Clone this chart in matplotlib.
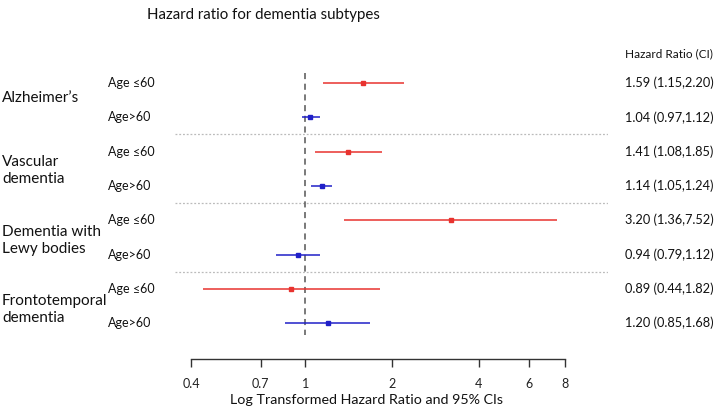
import matplotlib
matplotlib.use("Agg")
import matplotlib.pyplot as plt
import matplotlib.transforms as mtransforms
import numpy as np

plt.rcParams['font.family'] = ['Lato', 'DejaVu Sans']

groups = ["Alzheimer\u2019s", "Vascular\ndementia", "Dementia with\nLewy bodies", "Frontotemporal\ndementia"]
age_labels = ["Age \u226460", "Age>60"]
hr = [1.59, 1.04, 1.41, 1.14, 3.20, 0.94, 0.89, 1.20]
lo = [1.15, 0.97, 1.08, 1.05, 1.36, 0.79, 0.44, 0.85]
hi = [2.20, 1.12, 1.85, 1.24, 7.52, 1.12, 1.82, 1.68]
hr_text = ["1.59 (1.15,2.20)", "1.04 (0.97,1.12)", "1.41 (1.08,1.85)", "1.14 (1.05,1.24)",
           "3.20 (1.36,7.52)", "0.94 (0.79,1.12)", "0.89 (0.44,1.82)", "1.20 (0.85,1.68)"]
xticks = [0.4, 0.7, 1, 2, 4, 6, 8]
xtick_labels = ["0.4", "0.7", "1", "2", "4", "6", "8"]

W, H = 716, 411
fig = plt.figure(figsize=(W/100, H/100), dpi=100)
left_px, right_px, top_px, bot_px = 175, 608, 60, 359
ax = fig.add_axes([left_px/W, 1-bot_px/H, (right_px-left_px)/W, (bot_px-top_px)/H])

ppd = 287.5  # pixels per decade
x0px = 191
ax.set_xscale('log')
ax.set_xlim(0.4*10**((left_px-x0px)/ppd), 0.4*10**((right_px-x0px)/ppd))
row0, step = 83, 34.3
ax.set_ylim((bot_px-row0)/step, (top_px-row0)/step)

red = '#e8332f'
blue = '#2020c8'
n = len(hr)
ypos = np.arange(n)
for i in range(n):
    c = red if i % 2 == 0 else blue
    ax.plot([lo[i], hi[i]], [ypos[i], ypos[i]], color=c, lw=1.1, solid_capstyle='butt', zorder=3)
    ax.plot(hr[i], ypos[i], marker='s', ms=3.2, color=c, mec=c, zorder=4)

ax.vlines(1, (73-row0)/step, (335-row0)/step, colors='#555555', linestyles=(0, (4, 3)), lw=1.1, zorder=2)
for s in [1.5, 3.5, 5.5]:
    ax.axhline(s, color='#bbbbbb', lw=0.9, ls=(0, (1.5, 1.5)), zorder=1)

for sp in ['top', 'right', 'left']:
    ax.spines[sp].set_visible(False)
ax.spines['bottom'].set_bounds(0.4, 8)
ax.spines['bottom'].set_color('#333333')
ax.spines['bottom'].set_linewidth(1.0)
ax.set_yticks([])
ax.set_xticks(xticks)
ax.set_xticklabels(xtick_labels, fontsize=9)
ax.xaxis.set_minor_locator(matplotlib.ticker.NullLocator())
ax.tick_params(axis='x', length=6, width=1.0, color='#333333', pad=8, labelcolor='#222222')

trans = mtransforms.blended_transform_factory(fig.transFigure, ax.transData)
for i in range(n):
    fig.text(108/W, ypos[i], age_labels[i % 2], transform=trans, fontsize=9, va='center', ha='left', color='#111111')
    fig.text(625/W, ypos[i], hr_text[i], transform=trans, fontsize=9.2, va='center', ha='left', color='#111111')
group_y = [0.45, 2.55, 4.6, 6.6]
for g, name in enumerate(groups):
    fig.text(2/W, group_y[g], name, transform=trans, fontsize=11, va='center', ha='left',
             color='#111111', linespacing=1.3)

fig.text(625/W, 1-54/H, "Hazard Ratio (CI)", fontsize=8.5, va='center', ha='left', color='#111111')
fig.text(263/W, 1-15/H, "Hazard ratio for dementia subtypes", fontsize=10.8, va='center', ha='center', color='#111111')
fig.text(366/W, 1-400/H, "Log Transformed Hazard Ratio and 95% CIs", fontsize=10.3, va='center', ha='center', color='#111111')

fig.savefig("out.png", dpi=100)
